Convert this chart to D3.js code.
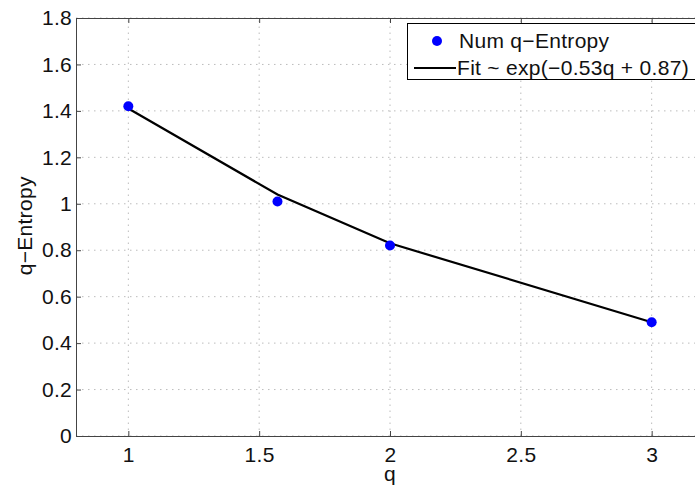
<!DOCTYPE html>
<html>
<head>
<meta charset="utf-8">
<script src="https://cdn.jsdelivr.net/npm/d3@7.9.0/dist/d3.min.js"></script>
<style>
  body { margin: 0; background: #fff; }
  svg { display: block; font-family: "Liberation Sans", Arial, sans-serif; letter-spacing: 0.3px; }
</style>
</head>
<body>
<div id="chart"></div>
<script>
// values
const qValues = [1, 1.57, 2, 3];
const numEntropy = [1.42, 1.01, 0.82, 0.49];
const fitEntropy = [1.41, 1.04, 0.83, 0.49];
const xTicks = [1, 1.5, 2, 2.5, 3];
const yTicks = [0, 0.2, 0.4, 0.6, 0.8, 1, 1.2, 1.4, 1.6, 1.8];
const legendLabels = ["Num q\u2212Entropy", "Fit ~ exp(\u22120.53q + 0.87)"];

const width = 695;
const height = 486;
const margin = { top: 18, left: 76 };
const plotBottom = 436;

const svg = d3.select("#chart")
  .append("svg")
  .attr("width", width)
  .attr("height", height);

const xScale = d3.scaleLinear().domain([0.8, 3.2]).range([margin.left, 704]);
const yScale = d3.scaleLinear().domain([0, 1.8]).range([plotBottom, margin.top]);

const fontSize = 21;
const axisColor = "#444";

// dotted grid
const grid = svg.append("g").attr("class", "grid")
  .attr("stroke", "#bcbcbc")
  .attr("stroke-width", 1)
  .attr("stroke-dasharray", "1.5,4.5");

grid.selectAll(".gx")
  .data(xTicks)
  .join("line")
  .attr("x1", (d) => xScale(d))
  .attr("x2", (d) => xScale(d))
  .attr("y1", yScale(0))
  .attr("y2", yScale(1.8));

grid.selectAll(".gy")
  .data(yTicks)
  .join("line")
  .attr("x1", xScale(0.8))
  .attr("x2", xScale(3.2))
  .attr("y1", (d) => yScale(d))
  .attr("y2", (d) => yScale(d));

function styleAxis(g) {
  g.select(".domain").attr("stroke", axisColor);
  g.selectAll(".tick line").attr("stroke", axisColor);
  g.selectAll(".tick text")
    .attr("fill", "#111")
    .style("font-size", fontSize + "px")
    .style("font-family", '"Liberation Sans", Arial, sans-serif');
}

const fmt = (d) => d3.format("~g")(d);

svg.append("g")
  .attr("transform", `translate(0, ${plotBottom})`)
  .call(d3.axisBottom(xScale).tickValues(xTicks).tickFormat(fmt)
    .tickSizeInner(-5).tickSizeOuter(0).tickPadding(11))
  .call(styleAxis);

svg.append("g")
  .attr("transform", `translate(0, ${margin.top})`)
  .call(d3.axisTop(xScale).tickValues(xTicks).tickFormat("")
    .tickSizeInner(-5).tickSizeOuter(0))
  .call(styleAxis);

svg.append("g")
  .attr("transform", `translate(${margin.left}, 0)`)
  .call(d3.axisLeft(yScale).tickValues(yTicks).tickFormat(fmt)
    .tickSizeInner(-5).tickSizeOuter(0).tickPadding(4))
  .call(styleAxis);

svg.append("g")
  .attr("transform", `translate(${xScale(3.2)}, 0)`)
  .call(d3.axisRight(yScale).tickValues(yTicks).tickFormat("")
    .tickSizeInner(-5).tickSizeOuter(0))
  .call(styleAxis);

// fit line
const line = d3.line()
  .x((d, i) => xScale(qValues[i]))
  .y((d) => yScale(d));

svg.append("path")
  .datum(fitEntropy)
  .attr("fill", "none")
  .attr("stroke", "#000")
  .attr("stroke-width", 2.2)
  .attr("d", line);

// numerical points
svg.append("g")
  .selectAll("circle")
  .data(numEntropy)
  .join("circle")
  .attr("cx", (d, i) => xScale(qValues[i]))
  .attr("cy", (d) => yScale(d))
  .attr("r", 5)
  .attr("fill", "#0000ff");

// axis labels
svg.append("text")
  .attr("x", xScale(2))
  .attr("y", 481)
  .attr("text-anchor", "middle")
  .style("font-size", fontSize + "px")
  .attr("fill", "#111")
  .text("q");

svg.append("text")
  .attr("transform", `translate(32, ${yScale(0.905)}) rotate(-90)`)
  .attr("text-anchor", "middle")
  .style("font-size", fontSize + "px")
  .attr("fill", "#111")
  .text("q\u2212Entropy");

// legend
const legend = svg.append("g").attr("class", "legend");

legend.append("rect")
  .attr("x", 407.5)
  .attr("y", 23.5)
  .attr("width", 300)
  .attr("height", 56)
  .attr("fill", "#fff")
  .attr("stroke", "#000")
  .attr("stroke-width", 1);

legend.append("circle")
  .attr("cx", 437)
  .attr("cy", 41)
  .attr("r", 5)
  .attr("fill", "#0000ff");

legend.append("line")
  .attr("x1", 414)
  .attr("x2", 456)
  .attr("y1", 68)
  .attr("y2", 68)
  .attr("stroke", "#000")
  .attr("stroke-width", 2.2);

legend.selectAll("text")
  .data(legendLabels)
  .join("text")
  .attr("x", (d, i) => (i === 0 ? 459 : 457))
  .attr("y", (d, i) => 48 + i * 27)
  .style("font-size", fontSize + "px")
  .attr("fill", "#111")
  .text((d) => d);
</script>
</body>
</html>
